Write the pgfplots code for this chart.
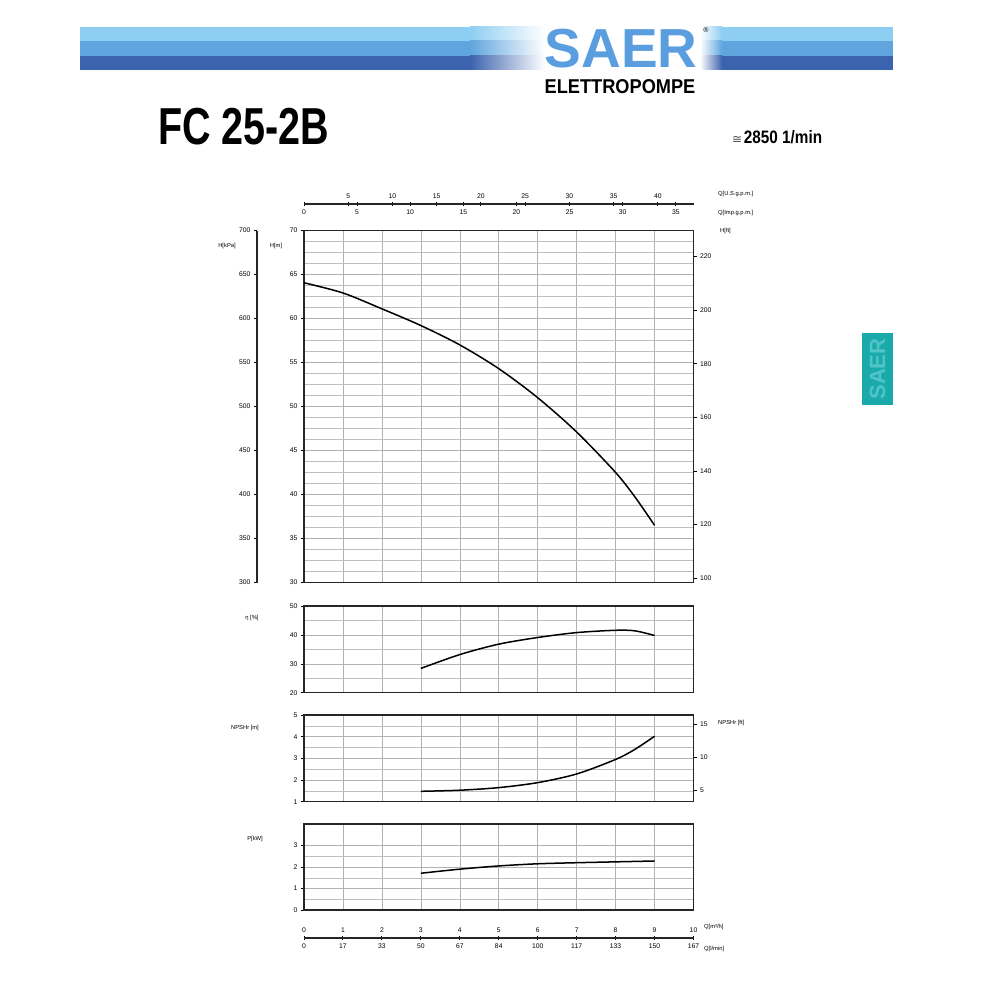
\documentclass[border=0pt]{standalone}
\usepackage{graphicx}
\usepackage{pgfplots}
\pgfplotsset{compat=1.18}
\usepackage{fontspec}
\setmainfont{Liberation Sans}
\newfontfamily\dejavu{DejaVu Sans}

\definecolor{bandA}{RGB}{142,206,242}
\definecolor{bandB}{RGB}{96,165,222}
\definecolor{bandC}{RGB}{60,99,174}
\definecolor{logoblue}{RGB}{90,158,224}
\definecolor{tabteal}{RGB}{27,170,172}
\definecolor{tabtext}{RGB}{80,196,198}

% curves, Q in m3/h
\pgfplotstableread{
Q    H
0    64.06
1    62.9
2    61.1
3    59.2
4    57.0
5    54.3
6    51.0
7    47.1
8    42.5
8.5  39.7
9    36.5
}\headdata
\pgfplotstableread{
Q    eta
3    28.4
4    33.2
5    36.8
6    39.1
7    40.8
8    41.6
8.5  41.4
9    39.8
}\etadata
\pgfplotstableread{
Q    npsh
3    1.48
4    1.53
5    1.65
6    1.88
7    2.28
8    2.95
8.5  3.42
9    4.02
}\npshdata
\pgfplotstableread{
Q    P
3    1.71
4    1.90
5    2.05
6    2.15
7    2.20
8    2.24
9    2.28
}\powerdata

\pgfplotsset{
  ticks/.style={
    /pgf/number format/assume math mode=true,
    tick label style={font=\fontsize{6.8}{7}\selectfont},
    tick align=outside, major tick length=3pt, minor tick length=0pt,
  },
  panel/.style={
    ticks, scale only axis, width=389.5pt, anchor=south west,
    xmin=0, xmax=10, xtick={0,...,10}, xticklabels={},
    xtick style={draw=none}, ytick pos=left,
    grid=both,
    major grid style={gray!60, line width=0.6pt},
    minor grid style={gray!50, line width=0.5pt},
    axis line style={line width=1.5pt, black!85},
    ytick style={black, line width=0.6pt},
  },
  side/.style={
    ticks, scale only axis, anchor=south west, axis x line=none,
    xmin=0, xmax=1, axis line style={line width=1.5pt, black!85, -},
    ytick style={black, line width=0.6pt},
  },
  scale/.style={
    ticks, scale only axis, width=389.5pt, height=10pt, ymin=0, ymax=1,
    axis y line=none, tick align=center, major tick length=4pt,
    axis line style={line width=1.1pt, black!85, -},
    xtick style={black, line width=1pt},
  },
  curve/.style={black, line width=1.5pt, smooth, no markers},
}

\begin{document}
\begin{tikzpicture}
\useasboundingbox (0pt,0pt) rectangle (1000pt,-1000pt);
\fill[white] (0pt,0pt) rectangle (1000pt,-1000pt);

\begin{scope}[x=1pt, y=-1pt]
  % header band
  \foreach \c/\ya/\yb in {bandA/27/41, bandB/41/56, bandC/56/70} {
    \fill[\c] (80,\ya) rectangle (470,\yb);
    \shade[left color=\c, right color=white] (470,\ya) rectangle (545,\yb);
    \shade[left color=white, right color=\c] (700,\ya) rectangle (722,\yb);
    \fill[\c] (722,\ya) rectangle (893,\yb);
  }
  \node[inner sep=0, logoblue] at (621,49)
    {\scalebox{1.0}[1]{\fontsize{55}{55}\selectfont\bfseries SAER}};
  \node[inner sep=0] at (706,30) {\fontsize{7}{7}\selectfont ®};
  \node[inner sep=0] at (620,86.5)
    {\scalebox{0.91}[1]{\fontsize{20}{20}\selectfont\bfseries ELETTROPOMPE}};

  \node[inner sep=0, anchor=west] at (158,127)
    {\scalebox{0.76}[1]{\fontsize{52}{52}\selectfont\bfseries FC 25-2B}};
  \node[inner sep=0, anchor=west] at (732,137)
    {{\dejavu\fontsize{12}{12}\selectfont\color{black!70}≅}\,\scalebox{0.85}[1]{\fontsize{18}{18}\selectfont\bfseries 2850 1/min}};

  % side tab
  \fill[tabteal] (862,333) rectangle (893,405);
  \node[inner sep=0, rotate=90, tabtext] at (877.5,369)
    {\fontsize{22}{22}\selectfont\bfseries SAER};

  % axis captions
  \begin{scope}[font=\fontsize{5.8}{6}\selectfont, inner sep=0]
    \node at (227,246) {H[kPa]};
    \node at (276,246) {H[m]};
    \node[anchor=west] at (720,231) {H[ft]};
    \node[anchor=west] at (718,194) {Q[U.S.g.p.m.]};
    \node[anchor=west] at (718,213) {Q[Imp.g.p.m.]};
    \node at (252,618) {η [\%]};
    \node at (245,728) {NPSHr [m]};
    \node[anchor=west] at (718,723) {NPSHr [ft]};
    \node at (255,839) {P[kW]};
    \node[anchor=west] at (704,927) {Q[m³/h]};
    \node[anchor=west] at (704,949) {Q[l/min]};
  \end{scope}
\end{scope}

% top flow scales
\begin{axis}[scale, at={(304pt,-204pt)}, anchor=north west,
  axis x line*=top, xmin=0, xmax=44.029, xtick={5,10,...,40}]
\end{axis}
\begin{axis}[scale, at={(304pt,-204pt)}, anchor=south west,
  axis x line*=bottom, xmin=0, xmax=36.662, xtick={0,5,...,35}]
\end{axis}

% head
\begin{axis}[panel, at={(304pt,-582.5pt)}, height=352pt,
  ymin=30, ymax=70, ytick={30,35,...,70}, minor y tick num=3]
\addplot[curve] table[x=Q, y=H] {\headdata};
\end{axis}
\begin{axis}[side, at={(304pt,-582.5pt)}, width=389.5pt, height=352pt,
  axis y line*=right, ymin=98.425, ymax=229.659, ytick={100,120,...,220}]
\end{axis}
\begin{axis}[side, at={(257pt,-582.5pt)}, width=1pt, height=352pt,
  axis y line*=left, ymin=300, ymax=700, ytick={300,350,...,700},
  axis line style={line width=1.2pt, black!85, -}]
\end{axis}

% efficiency
\begin{axis}[panel, at={(304pt,-692.7pt)}, height=86.7pt,
  ymin=20, ymax=50, ytick={20,30,40,50}, minor y tick num=1]
\addplot[curve] table[x=Q, y=eta] {\etadata};
\end{axis}

% NPSH
\begin{axis}[panel, at={(304pt,-801.7pt)}, height=86.7pt,
  ymin=1, ymax=5, ytick={1,...,5}, minor y tick num=1]
\addplot[curve] table[x=Q, y=npsh] {\npshdata};
\end{axis}
\begin{axis}[side, at={(304pt,-801.7pt)}, width=389.5pt, height=86.7pt,
  axis y line*=right, ymin=3.281, ymax=16.404, ytick={5,10,15}]
\end{axis}

% power
\begin{axis}[panel, at={(304pt,-910pt)}, height=86pt,
  ymin=0, ymax=4, ytick={0,1,2,3}, minor y tick num=1]
\addplot[curve] table[x=Q, y=P] {\powerdata};
\end{axis}

% bottom flow scales
\begin{axis}[scale, at={(304pt,-938pt)}, anchor=north west,
  axis x line*=top, xmin=0, xmax=10, xtick={0,...,10}]
\end{axis}
\begin{axis}[scale, at={(304pt,-938pt)}, anchor=south west,
  axis x line*=bottom, xmin=0, xmax=10, xtick={0,...,10},
  xticklabels={0,17,33,50,67,84,100,117,133,150,167}]
\end{axis}
\end{tikzpicture}
\end{document}
